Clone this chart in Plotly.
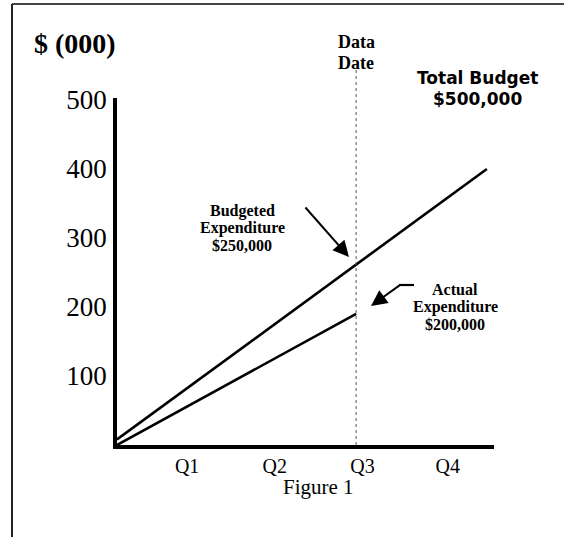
import plotly.graph_objects as go

# ---- data ----
quarter_labels = ["Q1", "Q2", "Q3", "Q4"]
quarter_tick_pos = [0.88, 1.98, 3.08, 4.15]
y_ticks = [100, 200, 300, 400, 500]

budget_x = [0, 4.64]
budget_y = [8, 400]

actual_x = [0, 3.0]
actual_y = [0, 190]

data_date_x = 3.0

# ---- layout geometry (pixels) ----
W, H = 564, 537
L, R, T, B = 117, 494, 98, 445
XMAX = 4.73
YMAX = (B - T) / 0.69


def px(x):
    return (x - L) / (R - L)


def py(y):
    return (B - y) / (B - T)


SERIF = "Liberation Serif"
SANS = "DejaVu Sans"

fig = go.Figure()
fig.add_trace(go.Scatter(x=budget_x, y=budget_y, mode="lines",
                         line=dict(color="black", width=2.6), hoverinfo="skip"))
fig.add_trace(go.Scatter(x=actual_x, y=actual_y, mode="lines",
                         line=dict(color="black", width=2.6), hoverinfo="skip"))

shapes = []
# data date dotted line
shapes.append(dict(type="line", xref="x", yref="paper", x0=data_date_x, x1=data_date_x,
                   y0=0, y1=py(68), line=dict(color="#555", width=1, dash="dot")))
# page border (top and left)
shapes.append(dict(type="line", xref="paper", yref="paper", x0=px(12), x1=px(566),
                   y0=py(4), y1=py(4), line=dict(color="#444", width=2)))
shapes.append(dict(type="line", xref="paper", yref="paper", x0=px(12), x1=px(12),
                   y0=py(4), y1=py(540), line=dict(color="#222", width=2)))
# horizontal tail of actual arrow
shapes.append(dict(type="line", xref="paper", yref="paper", x0=px(399), x1=px(414),
                   y0=py(285), y1=py(285), line=dict(color="black", width=2.2)))

annotations = []


def txt(text, x, y, size, family=SERIF, bold=True):
    annotations.append(dict(text=("<b>%s</b>" % text) if bold else text,
                            xref="paper", yref="paper", x=px(x), y=py(y),
                            xanchor="center", yanchor="middle", showarrow=False,
                            font=dict(family=family, size=size, color="black")))


txt("$ (000)", 75, 44, 28)
txt("Data", 356, 42, 18)
txt("Date", 356, 63, 18)
txt("Total Budget", 477, 78, 17, family=SANS)
txt("$500,000", 477, 99, 17, family=SANS)
txt("Budgeted", 242, 211, 16)
txt("Expenditure", 242, 228, 16)
txt("$250,000", 242, 245, 16)
txt("Actual", 455, 289.5, 16)
txt("Expenditure", 455, 307, 16)
txt("$200,000", 455, 324, 16)
txt("Figure 1", 318, 487, 21, bold=False)


def arrow(tip_x, tip_y, tail_x, tail_y):
    annotations.append(dict(xref="paper", yref="paper", x=px(tip_x), y=py(tip_y),
                            ax=tail_x - tip_x, ay=tail_y - tip_y,
                            text="", font=dict(size=1), borderpad=0,
                            showarrow=True, arrowhead=2, arrowsize=1.6,
                            arrowwidth=2, arrowcolor="black"))


arrow(349, 257, 305, 207)
arrow(371, 306, 400, 285)

fig.update_layout(
    width=W, height=H,
    margin=dict(l=L, r=W - R, t=T, b=H - B),
    paper_bgcolor="white", plot_bgcolor="white",
    showlegend=False,
    shapes=shapes, annotations=annotations,
    xaxis=dict(range=[0, XMAX], showgrid=False, zeroline=False,
               showline=True, linecolor="black", linewidth=3.5,
               tickvals=quarter_tick_pos, ticktext=quarter_labels, ticks="",
               tickfont=dict(family=SERIF, size=20, color="black"), fixedrange=True),
    yaxis=dict(range=[0, YMAX], showgrid=False, zeroline=False,
               showline=True, linecolor="black", linewidth=3.5,
               tickvals=y_ticks, ticks="", ticklabelstandoff=1,
               tickfont=dict(family=SERIF, size=27, color="black"), fixedrange=True),
)

fig.write_html("out.html", config={"displayModeBar": False},
               post_script="document.body.style.margin='0';")
